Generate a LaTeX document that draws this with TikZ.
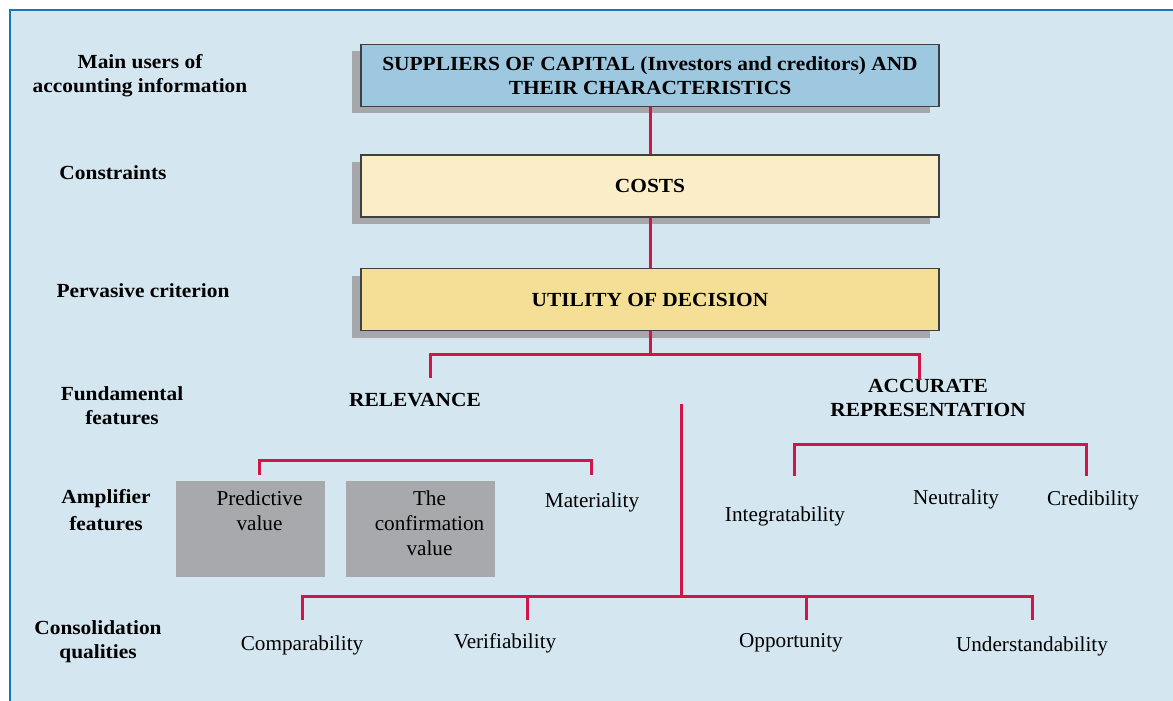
\documentclass[tikz,border=0pt]{standalone}
\usepackage{fontspec}
\setmainfont{Liberation Serif}[BoldFeatures={FakeStretch=1.07}]
\usepackage{tikz}
\usetikzlibrary{shadows}
\definecolor{bgblue}{RGB}{212,230,240}
\definecolor{frameblue}{RGB}{20,120,190}
\definecolor{supblue}{RGB}{157,200,224}
\definecolor{costcream}{RGB}{250,237,200}
\definecolor{utilyellow}{RGB}{245,223,150}
\definecolor{shadowgrey}{RGB}{166,167,171}
\definecolor{boxgrey}{RGB}{167,169,172}
\definecolor{linkred}{RGB}{210,20,70}
\tikzset{every picture/.append style={x=0.5pt,y=-0.5pt}}
\tikzset{box/.style={draw=black!75, semithick, minimum width=289pt, minimum height=31pt, align=center, font=\bfseries, drop shadow={shadow xshift=-4.75pt, shadow yshift=-3.5pt, fill=shadowgrey, opacity=1}}}
\tikzset{greybox/.style={fill=boxgrey, minimum width=74.5pt, minimum height=48pt, inner sep=0pt}}
\tikzset{heading/.style={align=center, font=\bfseries}}
\tikzset{feature/.style={align=center}}
\tikzset{boxtext/.style={feature, anchor=north, xshift=4.5pt, yshift=-1.5pt, font=\fontsize{10.6}{12.5}\selectfont}}
\tikzset{edge/.style={linkred, line width=1.5pt}}

\begin{document}
\begin{tikzpicture}[font=\fontsize{10.6}{11.5}\selectfont]
\useasboundingbox (0,0) rectangle (1173,701);
\fill[bgblue] (10,10) rectangle (1173,701);
\draw[frameblue, line width=0.9pt] (10,701)--(10,10)--(1173,10);

%headings on the left
\node (h1) at (140,76)[heading]{Main users of\\accounting information};
\node (h2) at (113,173)[heading]{Constraints};
\node (h3) at (143,291)[heading]{Pervasive criterion};
\node (h4) at (122,406)[heading]{Fundamental\\features};
\node (h5) at (106,510)[heading]{Amplifier\\[1.5pt]features};
\node (h6) at (98,642)[heading]{Consolidation\\qualities};

%the three boxes
\node (sup) at (650,75.5)[box, fill=supblue]{SUPPLIERS OF CAPITAL (Investors and creditors) AND\\THEIR CHARACTERISTICS};
\node (cost) at (650,186)[box, fill=costcream]{COSTS};
\node (util) at (650,299.5)[box, fill=utilyellow]{UTILITY OF DECISION};

\draw[edge] (sup)--(cost);
\draw[edge] (cost)--(util);

%fundamental features
\node (rel) at (415,400)[heading]{RELEVANCE};
\node (acc) at (928,398)[heading]{ACCURATE\\REPRESENTATION};

\coordinate (f0) at (650,354);
\coordinate (f1) at (430,354);
\coordinate (f2) at (919,354);
\coordinate (f1d) at (430,378);
\coordinate (f2d) at (919,380);
\draw[edge] (util.south)--(f0);
\draw[edge] (f1d)--(f1)--(f2)--(f2d);

%amplifier features
\node (pv) at (250.5,529)[greybox, label={[boxtext]north:Predictive\\value}]{};
\node (cv) at (420.5,529)[greybox, label={[boxtext]north:The\\confirmation\\value}]{};
\node (mat) at (592,502)[feature]{Materiality};

\coordinate (r1) at (259,460);
\coordinate (r2) at (591,460);
\coordinate (r1d) at (259,475);
\coordinate (r2d) at (591,475);
\draw[edge] (r1d)--(r1)--(r2)--(r2d);

\node (int) at (785,516)[feature]{Integratability};
\node (neu) at (956,499)[feature]{Neutrality};
\node (cred) at (1093,500)[feature]{Credibility};

\coordinate (a1) at (794,444);
\coordinate (a2) at (1086,444);
\coordinate (a1d) at (794,476);
\coordinate (a2d) at (1086,476);
\draw[edge] (a1d)--(a1)--(a2)--(a2d);

%consolidation qualities
\node (cmp) at (302,645)[feature]{Comparability};
\node (ver) at (505,643)[feature]{Verifiability};
\node (opp) at (791,643)[feature]{Opportunity};
\node (und) at (1032,646)[feature]{Understandability};

\coordinate (c0) at (681,404);
\coordinate (cj) at (681,596);
\coordinate (c1) at (302,596);
\coordinate (c4) at (1032,596);
\coordinate (c2) at (527,596);
\coordinate (c3) at (806,596);
\coordinate (c1d) at (302,620);
\coordinate (c2d) at (527,620);
\coordinate (c3d) at (806,620);
\coordinate (c4d) at (1032,620);
\draw[edge] (c0)--(cj);
\draw[edge] (c1d)--(c1)--(c4)--(c4d);
\draw[edge] (c2)--(c2d);
\draw[edge] (c3)--(c3d);

\end{tikzpicture}
\end{document}
